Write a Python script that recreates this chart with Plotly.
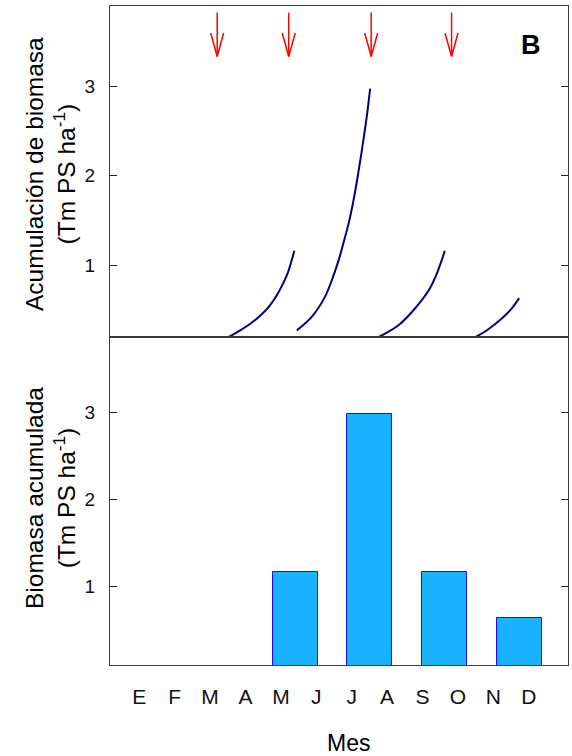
import plotly.graph_objects as go

# ---------------- data ----------------
months = ["E", "F", "M", "A", "M", "J", "J", "A", "S", "O", "N", "D"]
month_pos = list(range(1, 13))

# growth curves (x in month units, E = 1; y in Tm PS ha-1)
curve1_x = [3.54, 3.85, 4.22, 4.46, 4.69, 4.88, 5.07, 5.21, 5.38]
curve1_y = [0.20, 0.27, 0.37, 0.45, 0.55, 0.66, 0.80, 0.93, 1.16]
curve2_x = [5.45, 5.87, 6.25, 6.51, 6.65, 6.79, 6.91, 7.02, 7.11, 7.19, 7.27, 7.35, 7.44, 7.52]
curve2_y = [0.27, 0.42, 0.65, 0.91, 1.08, 1.28, 1.46, 1.66, 1.85, 2.04, 2.24, 2.45, 2.70, 2.97]
curve3_x = [7.78, 8.33, 8.80, 9.18, 9.41, 9.63]
curve3_y = [0.20, 0.33, 0.52, 0.72, 0.91, 1.16]
curve4_x = [10.52, 10.85, 11.23, 11.51, 11.73]
curve4_y = [0.20, 0.28, 0.40, 0.51, 0.63]

# cut events (arrows)
cut_x = [3.20, 5.22, 7.55, 9.82]
arrow_top = 3.82
arrow_tip = 3.33

# accumulated biomass bars
bar_x = [5.40, 7.51, 9.62, 11.73]
bar_y = [1.16, 2.98, 1.16, 0.63]

# ---------------- style ----------------
FONT = "Liberation Sans, Arial, sans-serif"
AXC = "#3a3a3a"
W, H = 572, 756
L, R, T, B = 110, 4, 6, 91
plot_h = H - T - B
split = (665 - 337) / plot_h

fig = go.Figure()

curve_style = dict(color="#00007f", width=2)
for cx, cy in [(curve1_x, curve1_y), (curve2_x, curve2_y),
               (curve3_x, curve3_y), (curve4_x, curve4_y)]:
    fig.add_trace(go.Scatter(x=cx, y=cy, mode="lines", line=dict(shape="spline", smoothing=1.0, **curve_style),
                             xaxis="x", yaxis="y", showlegend=False, hoverinfo="skip"))

# arrows (shaft + open V head)
px_per_month = 35.4
head_dx = 6.5 / px_per_month
head_h = 23.5 / 89.5
for ax_ in cut_x:
    fig.add_trace(go.Scatter(x=[ax_, ax_], y=[arrow_top, arrow_tip], mode="lines",
                             line=dict(color="#ff0000", width=1.5), xaxis="x", yaxis="y",
                             showlegend=False, hoverinfo="skip"))
    fig.add_trace(go.Scatter(x=[ax_ - head_dx, ax_, ax_ + head_dx],
                             y=[arrow_tip + head_h, arrow_tip, arrow_tip + head_h], mode="lines",
                             line=dict(color="#ff0000", width=1.5), xaxis="x", yaxis="y",
                             showlegend=False, hoverinfo="skip"))

fig.add_trace(go.Bar(x=bar_x, y=bar_y, width=1.27, marker=dict(color="#18b2ff", line=dict(color="#1010ff", width=1)),
                     xaxis="x2", yaxis="y2", showlegend=False, hoverinfo="skip"))

xr = [0.172, 13.11]
common_y = dict(showgrid=False, zeroline=False, showline=True, linecolor=AXC, linewidth=1.3, mirror="ticks",
                ticks="inside", ticklen=7, tickcolor="#222", tickwidth=1.2, tickvals=[1, 2, 3],
                tickfont=dict(family=FONT, size=19, color="#111"), ticklabelstandoff=10)
fig.update_layout(
    width=W, height=H, margin=dict(l=L, r=R, t=T, b=B),
    paper_bgcolor="white", plot_bgcolor="white", bargap=0,
    xaxis=dict(domain=[0, 1], anchor="y", range=xr, showgrid=False, zeroline=False, showline=True,
               linecolor=AXC, linewidth=1.3, mirror=True, ticks="", showticklabels=False),
    yaxis=dict(domain=[split, 1], anchor="x", range=[0.196, 3.894], **common_y),
    xaxis2=dict(domain=[0, 1], anchor="y2", range=xr, showgrid=False, zeroline=False, showline=True,
                linecolor=AXC, linewidth=1.3, mirror=True, ticks="", tickvals=month_pos, ticktext=months,
                tickfont=dict(family=FONT, size=21, color="#111"), ticklabelstandoff=13),
    yaxis2=dict(domain=[0, split], anchor="x2", range=[0.092, 3.862], **common_y),
)

def px_x(p):
    return (p - L) / (W - L - R)

def px_y(p):
    return (H - B - p) / plot_h

annots = [
    dict(text="<b>B</b>", x=px_x(531), y=px_y(45), font=dict(family=FONT, size=27, color="black")),
    dict(text="Mes", x=px_x(348), y=px_y(743), font=dict(family=FONT, size=23, color="black")),
    dict(text="Acumulación de biomasa<br>(Tm PS ha<sup>-1</sup>)", x=px_x(50), y=px_y(174), textangle=-90,
         font=dict(family=FONT, size=24.5, color="black")),
    dict(text="Biomasa acumulada<br>(Tm PS ha<sup>-1</sup>)", x=px_x(50), y=px_y(498), textangle=-90,
         font=dict(family=FONT, size=24.5, color="black")),
]
for a in annots:
    fig.add_annotation(xref="paper", yref="paper", showarrow=False, xanchor="center", yanchor="middle", **a)

fig.write_html("out.html", config={"displayModeBar": False},
               post_script="document.body.style.margin='0';document.body.style.overflow='hidden';")
